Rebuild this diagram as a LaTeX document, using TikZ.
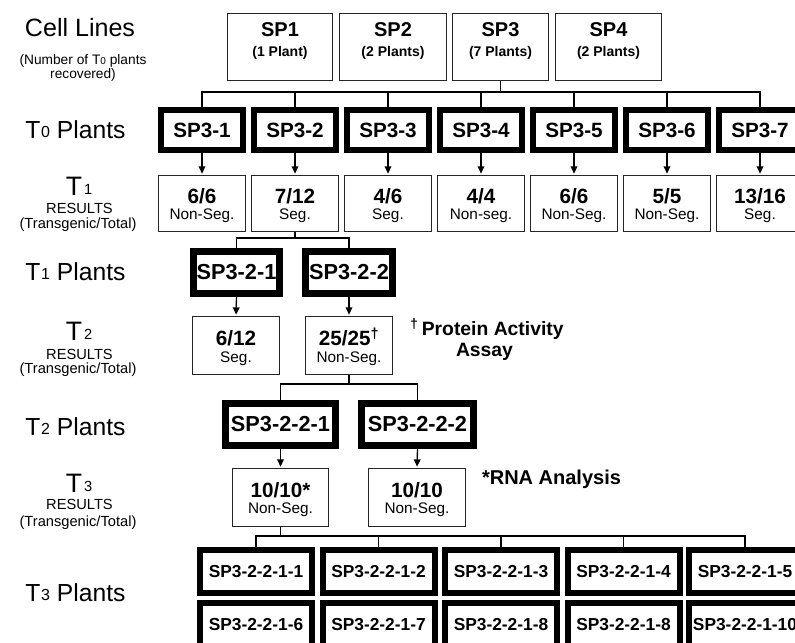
\documentclass[tikz,border=0pt]{standalone}
\usepackage{fontspec}
\setmainfont{Liberation Sans}
\usetikzlibrary{arrows.meta}
\newcommand\fs[1]{\fontsize{#1}{#1}\selectfont}
\newcommand\lsub[2]{\raisebox{0.2pt}{\fs{#1}#2}}
\begin{document}
\begin{tikzpicture}[x=0.75pt,y=-0.75pt,
  sz/.style 2 args={minimum width=#1*0.75pt, minimum height=#2*0.75pt},
  thinbox/.style={draw=black!85, line width=0.75pt, inner sep=0pt},
  thicksix/.style={draw=black, line width=4.5pt, inner sep=0pt},
  thickseven/.style={draw=black, line width=5.25pt, inner sep=0pt},
  lbl/.style={inner sep=0pt, align=center, anchor=base},
  conn/.style={draw=black, line width=1pt},
  arr/.style={conn, -{Triangle[length=5.5pt,width=5pt]}, shorten >=1pt},
  bigl/.style={lbl, font=\fs{18.5}},
  smalll/.style={lbl, font=\fs{11}},
  restop/.style={lbl, font=\fs{15.5}\bfseries},
  resbot/.style={lbl, font=\fs{11.5}},
]
\useasboundingbox (0,0) rectangle (795,642);

% ---------- left labels ----------
\node[lbl, font=\fs{18.8}] (cl) at (80,37) {Cell Lines};
\node[lbl, font=\fontsize{10.3}{10.3}\selectfont, anchor=center] (cl2) at (83,68) {(Number of T\lsub{7.5}{0} plants\\recovered)};
\node[bigl] (t0p) at (75.5,138) {T\kern0.5pt\lsub{12}{0} Plants};
\node[lbl, font=\fs{20}] (t1r) at (79,195) {T\kern1.5pt\lsub{11}{1}};
\node[smalll] (t1r2) at (79.5,213) {RESULTS};
\node[smalll] (t1r3) at (78,228.5) {(Transgenic/Total)};
\node[bigl] (t1p) at (75.5,280) {T\kern0.5pt\lsub{12}{1} Plants};
\node[lbl, font=\fs{20}] (t2r) at (79,340) {T\kern1.5pt\lsub{11}{2}};
\node[smalll] (t2r2) at (79.5,359) {RESULTS};
\node[smalll] (t2r3) at (78,373) {(Transgenic/Total)};
\node[bigl] (t2p) at (75.5,435) {T\kern0.5pt\lsub{12}{2} Plants};
\node[lbl, font=\fs{20}] (t3r) at (79,492) {T\kern1.5pt\lsub{11}{3}};
\node[smalll] (t3r2) at (79.5,509) {RESULTS};
\node[smalll] (t3r3) at (78,526) {(Transgenic/Total)};
\node[bigl] (t3p) at (75.5,601) {T\kern0.5pt\lsub{12}{3} Plants};

% ---------- cell lines ----------
\foreach \n/\x/\w/\c in {1/280/105/1 Plant, 2/393/107/2 Plants, 3/500.5/96/7 Plants, 4/608.5/106/2 Plants}{
  \node[thinbox, sz={\w}{67}] (sp\n) at (\x,47) {};
  \node[lbl, font=\fs{15}\bfseries] (sp\n n) at (\x,37) {SP\n};
  \node[lbl, font=\fs{10.5}\bfseries] (sp\n c) at (\x,57) {(\c)};
}

% ---------- T0 plants and T1 results ----------
\foreach \i/\x/\a/\b/\s in {1/202/6/6/Non-Seg., 2/295/7/12/Seg., 3/388/4/6/Seg., 4/481/4/4/Non-seg., 5/574/6/6/Non-Seg., 6/667/5/5/Non-Seg., 7/760/13/16/Seg.}{
  \node[thicksix, sz={82}{40}, font=\fs{15.5}\bfseries] (p\i) at (\x,130) {SP3-\i};
  \draw[conn] (sp3.south) -- ++(0,11) -| (p\i.north);
  \node[thinbox, sz={87}{56}] (r\i) at (\x,203.5) {};
  \node[restop] (r\i a) at (\x,203) {\a/\b};
  \node[resbot] (r\i b) at (\x,219) {\s};
  \draw[arr] (p\i.south) -- (r\i.north);
}

% ---------- T1 plants ----------
\node[thickseven, sz={86}{42}, font=\fs{16.3}\bfseries] (q1) at (236.5,272.5) {SP3-2-1};
\node[thickseven, sz={87}{42}, font=\fs{16.3}\bfseries] (q2) at (349,272.5) {SP3-2-2};
\draw[conn] (r2.south) -- ++(0,6) -| (q1.north);
\draw[conn] (r2.south) -- ++(0,6) -| (q2.north);

% ---------- T2 results ----------
\node[thinbox, sz={87}{58}] (s1) at (236,345.5) {};
\node[restop] (s1a) at (236,345) {6/12};
\node[resbot] (s1b) at (236,362.5) {Seg.};
\node[thinbox, sz={87}{58}] (s2) at (349,345.5) {};
\node[restop] (s2a) at (349,345) {25/25\textsuperscript{†}};
\node[resbot] (s2b) at (349,362.5) {Non-Seg.};
\draw[arr] (q1.south) -- (s1.north);
\draw[arr] (q2.south) -- (s2.north);
\node[lbl, font=\fs{14.5}\bfseries] (fn1) at (487,335) {\textsuperscript{†}\,Protein Activity};
\node[lbl, font=\fs{14.5}\bfseries] (fn1b) at (484.5,356) {Assay};

% ---------- T2 plants ----------
\node[thickseven, sz={110}{42}, font=\fs{16.3}\bfseries] (u1) at (280.5,424.5) {SP3-2-2-1};
\node[thickseven, sz={112}{42}, font=\fs{16.3}\bfseries] (u2) at (417.5,424.5) {SP3-2-2-2};
\draw[conn] (s2.south) -- ++(0,9) -| (u1.north);
\draw[conn] (s2.south) -- ++(0,9) -| (u2.north);

% ---------- T3 results ----------
\node[thinbox, sz={96}{58}] (v1) at (280.5,497.5) {};
\node[restop] (v1a) at (280.5,497) {10/10*};
\node[resbot] (v1b) at (280.5,513.5) {Non-Seg.};
\node[thinbox, sz={97}{58}] (v2) at (417,497.5) {};
\node[restop] (v2a) at (417,497) {10/10};
\node[resbot] (v2b) at (417,513.5) {Non-Seg.};
\draw[arr] (u1.south) -- (v1.north);
\draw[arr] (u2.south) -- (v2.north);
\node[lbl, font=\fs{15}\bfseries] (fn2) at (551.5,484) {*RNA Analysis};

% ---------- T3 plants ----------
\foreach \i/\x in {1/256, 2/378.5, 3/501, 4/623.5, 5/745}{
  \node[thicksix, sz={112}{43}, font=\fs{13}\bfseries] (w\i) at (\x,571.5) {SP3-2-2-1-\i};
  \draw[conn] (v1.south) -- ++(0,9) -| (w\i.north);
}
\foreach \i/\x/\l in {6/256/6, 7/378.5/7, 8/501/8, 9/623.5/8, 10/745/10}{
  \node[thicksix, sz={112}{43}, font=\fs{13}\bfseries] (w\i) at (\x,624.5) {SP3-2-2-1-\l};
}
\end{tikzpicture}
\end{document}
